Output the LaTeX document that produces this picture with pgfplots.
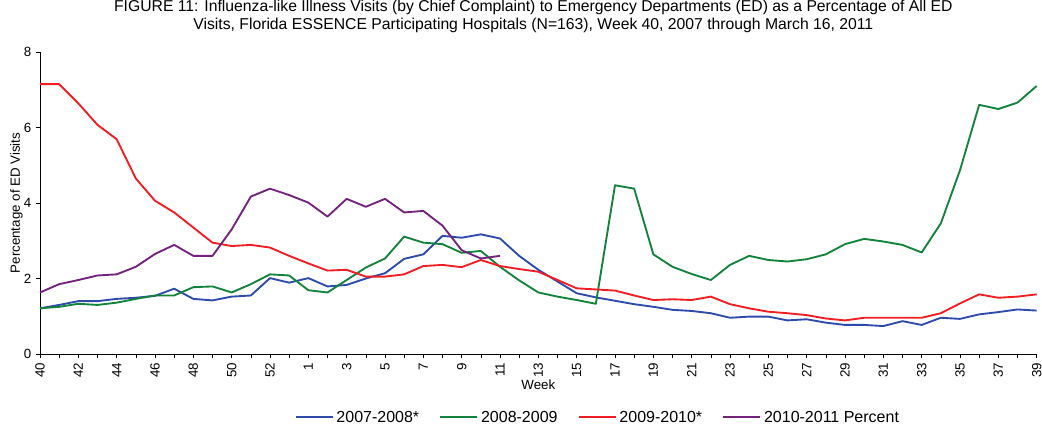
\documentclass[border=0pt]{standalone}
\usepackage{pgfplots}
\pgfplotsset{compat=1.18}
\usepackage{fontspec}
\setmainfont{Liberation Sans}
\definecolor{cb}{RGB}{46,74,170}
\definecolor{cg}{RGB}{20,130,60}
\definecolor{cr}{RGB}{240,30,35}
\definecolor{cp}{RGB}{115,35,125}
\begin{document}
\begin{tikzpicture}[x=1pt,y=1pt]
\path[use as bounding box] (0,0) rectangle (781.5,321);
\begin{axis}[
  at={(30pt,55.5pt)}, anchor=south west,
  scale only axis, width=747.5pt, height=226.5pt,
  xmin=0, xmax=52, ymin=0, ymax=8,
  axis x line*=bottom, axis y line*=left,
  axis line style={black, thin},
  xtick={0,2,...,52},
  xticklabels={40,42,44,46,48,50,52,1,3,5,7,9,11,13,15,17,19,21,23,25,27,29,31,33,35,37,39},
  minor xtick={1,3,...,51},
  ytick={0,2,4,6,8},
  tick align=outside, tick style={black, thin},
  major tick length=3pt, minor tick length=3pt,
  x tick label style={rotate=90, anchor=east, font=\fontsize{10}{10}\selectfont},
  y tick label style={font=\fontsize{10}{10}\selectfont},
  /pgf/number format/assume math mode=true,
  xlabel={Week}, xlabel style={font=\fontsize{10}{10}\selectfont, at={(axis description cs:0.5,0)}, anchor=center, yshift=-23pt},
  ylabel={Percentage of ED Visits}, ylabel style={font=\fontsize{10}{10}\selectfont, yshift=-6pt},
  title={FIGURE 11: Influenza-like Illness Visits (by Chief Complaint) to Emergency Departments (ED) as a Percentage of All ED\\Visits, Florida ESSENCE Participating Hospitals (N=163), Week 40, 2007 through March 16, 2011},
  title style={font=\fontsize{11.8}{13.5}\selectfont, align=center, at={(0.495,1)}, yshift=5pt},
  legend style={at={(0.56,-0.21)}, anchor=center, draw=none, legend columns=4, font=\fontsize{12}{13}\selectfont, /tikz/every even column/.append style={column sep=13pt}},
  legend image code/.code={\draw[#1] (0pt,0pt) -- (28pt,0pt);},
  every axis plot/.append style={line width=1.4pt, line join=round},
  clip=false,
]
\addplot[cb] coordinates {(0,1.21)(1,1.3)(2,1.4)(3,1.4)(4,1.46)(5,1.49)(6,1.54)(7,1.73)(8,1.46)(9,1.42)(10,1.52)(11,1.55)(12,2.01)(13,1.89)(14,2.01)(15,1.79)(16,1.83)(17,2.0)(18,2.14)(19,2.52)(20,2.64)(21,3.13)(22,3.08)(23,3.17)(24,3.06)(25,2.6)(26,2.23)(27,1.92)(28,1.61)(29,1.5)(30,1.41)(31,1.32)(32,1.25)(33,1.17)(34,1.14)(35,1.08)(36,0.96)(37,0.99)(38,0.99)(39,0.89)(40,0.92)(41,0.83)(42,0.77)(43,0.77)(44,0.74)(45,0.87)(46,0.77)(47,0.96)(48,0.93)(49,1.05)(50,1.11)(51,1.18)(52,1.15)};
\addlegendentry{2007-2008*}
\addplot[cg] coordinates {(0,1.21)(1,1.25)(2,1.33)(3,1.3)(4,1.36)(5,1.46)(6,1.55)(7,1.55)(8,1.77)(9,1.79)(10,1.63)(11,1.85)(12,2.11)(13,2.08)(14,1.69)(15,1.63)(16,1.96)(17,2.29)(18,2.53)(19,3.11)(20,2.95)(21,2.91)(22,2.68)(23,2.73)(24,2.31)(25,1.95)(26,1.63)(27,1.52)(28,1.43)(29,1.33)(30,4.47)(31,4.38)(32,2.64)(33,2.31)(34,2.12)(35,1.96)(36,2.36)(37,2.6)(38,2.49)(39,2.45)(40,2.51)(41,2.64)(42,2.91)(43,3.05)(44,2.98)(45,2.89)(46,2.69)(47,3.46)(48,4.87)(49,6.6)(50,6.49)(51,6.66)(52,7.1)};
\addlegendentry{2008-2009}
\addplot[cr] coordinates {(0,7.15)(1,7.15)(2,6.64)(3,6.07)(4,5.69)(5,4.65)(6,4.06)(7,3.75)(8,3.35)(9,2.95)(10,2.86)(11,2.89)(12,2.82)(13,2.6)(14,2.4)(15,2.21)(16,2.23)(17,2.05)(18,2.05)(19,2.11)(20,2.33)(21,2.36)(22,2.3)(23,2.49)(24,2.33)(25,2.25)(26,2.18)(27,1.96)(28,1.74)(29,1.71)(30,1.68)(31,1.55)(32,1.43)(33,1.45)(34,1.43)(35,1.52)(36,1.32)(37,1.21)(38,1.12)(39,1.08)(40,1.03)(41,0.94)(42,0.89)(43,0.96)(44,0.96)(45,0.96)(46,0.96)(47,1.08)(48,1.34)(49,1.58)(50,1.49)(51,1.52)(52,1.58)};
\addlegendentry{2009-2010*}
\addplot[cp] coordinates {(0,1.63)(1,1.85)(2,1.96)(3,2.08)(4,2.11)(5,2.31)(6,2.65)(7,2.89)(8,2.6)(9,2.6)(10,3.3)(11,4.17)(12,4.38)(13,4.21)(14,4.01)(15,3.64)(16,4.11)(17,3.9)(18,4.11)(19,3.75)(20,3.79)(21,3.4)(22,2.75)(23,2.53)(24,2.6)};
\addlegendentry{2010-2011 Percent}
\end{axis}
\end{tikzpicture}
\end{document}
